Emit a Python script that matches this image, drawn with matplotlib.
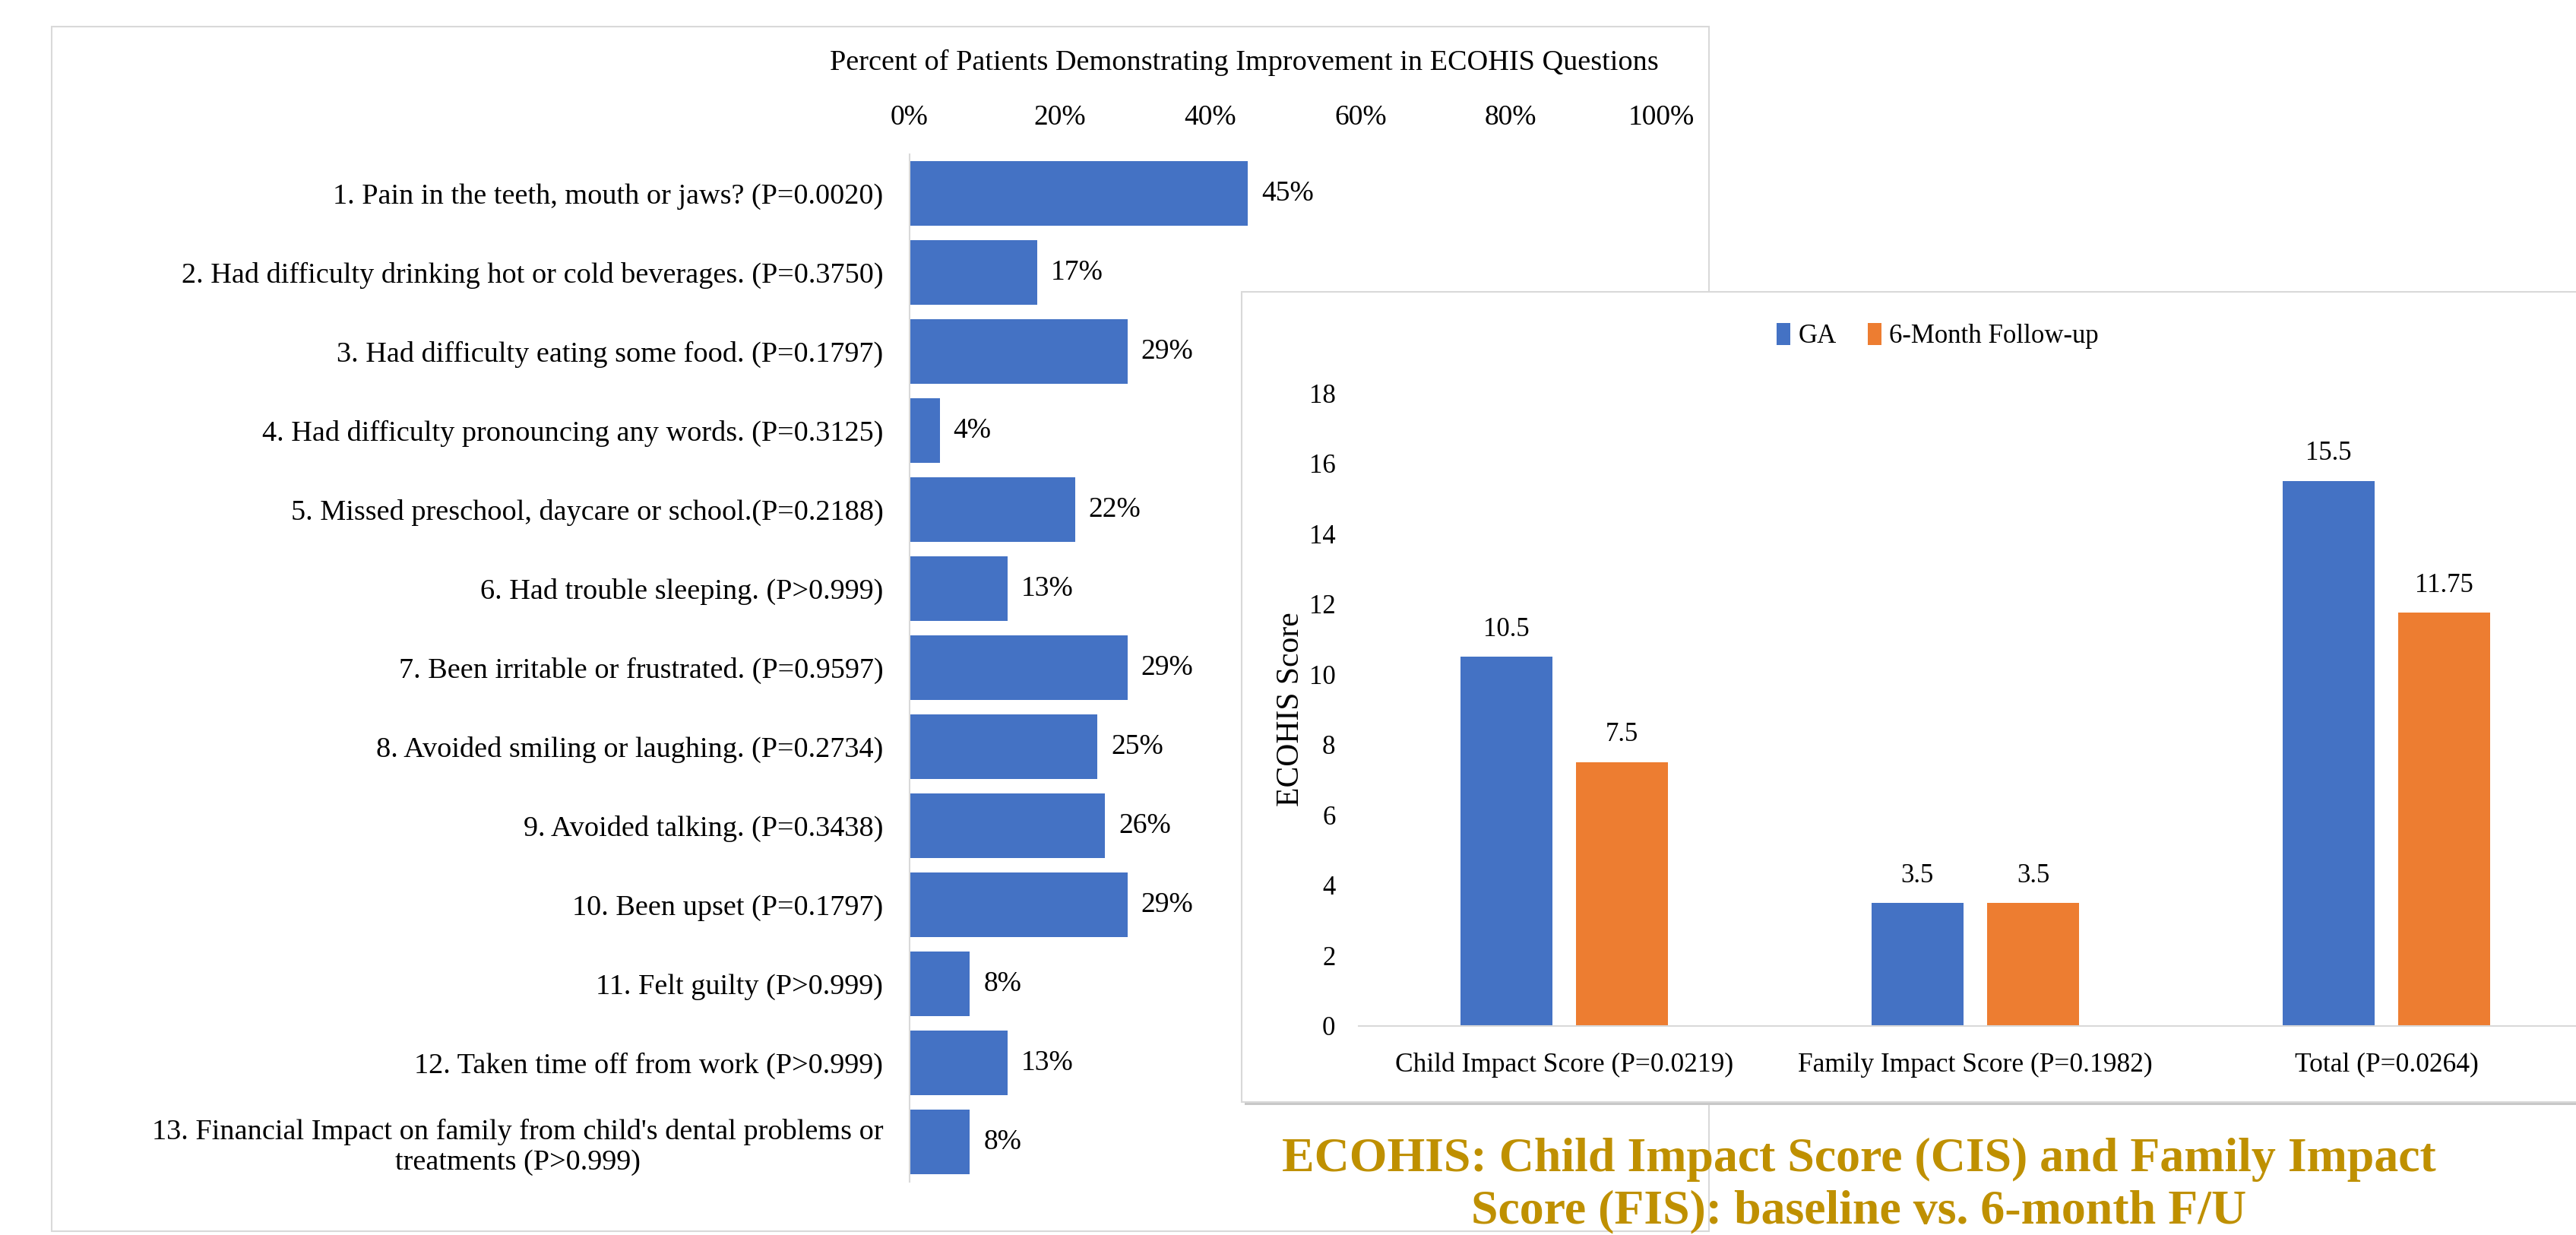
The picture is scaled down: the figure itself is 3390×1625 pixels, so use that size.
import matplotlib
matplotlib.use("Agg")
import matplotlib.pyplot as plt
from matplotlib.patches import Rectangle
from matplotlib.ticker import FuncFormatter
import numpy as np

plt.rcParams['font.family'] = ['Liberation Serif', 'DejaVu Serif']

# ECOHIS question improvement (percent of patients)
questions = [
    "1. Pain in the teeth, mouth or jaws? (P=0.0020)",
    "2. Had difficulty drinking hot or cold beverages. (P=0.3750)",
    "3. Had difficulty eating some food. (P=0.1797)",
    "4. Had difficulty pronouncing any words. (P=0.3125)",
    "5. Missed preschool, daycare or school.(P=0.2188)",
    "6. Had trouble sleeping. (P>0.999)",
    "7. Been irritable or frustrated. (P=0.9597)",
    "8. Avoided smiling or laughing. (P=0.2734)",
    "9. Avoided talking. (P=0.3438)",
    "10. Been upset (P=0.1797)",
    "11. Felt guilty (P>0.999)",
    "12. Taken time off from work (P>0.999)",
    "13. Financial Impact on family from child's dental problems or\ntreatments (P>0.999)",
]
improvement = [45, 17, 29, 4, 22, 13, 29, 25, 26, 29, 8, 13, 8]
pct_ticks = [0, 20, 40, 60, 80, 100]

# impact scores, baseline vs follow-up
score_groups = ["Child Impact Score (P=0.0219)", "Family Impact Score (P=0.1982)", "Total (P=0.0264)"]
ga_scores = [10.5, 3.5, 15.5]
followup_scores = [7.5, 3.5, 11.75]
score_ticks = [0, 2, 4, 6, 8, 10, 12, 14, 16, 18]

BLUE = "#4472C4"
ORANGE = "#ED7D31"
GRID = "#D9D9D9"
GOLD = "#BF9000"

W, H = 3390, 1625
fig = plt.figure(figsize=(W / 100, H / 100), dpi=100)


def px_rect(x0, y0, x1, y1):
    # pixel box (top-left origin) -> figure fraction rect
    return [x0 / W, 1 - y1 / H, (x1 - x0) / W, (y1 - y0) / H]


# --- left panel frame
fig.patches.append(Rectangle((68 / W, 1 - 1620 / H), (2249 - 68) / W, (1620 - 35) / H,
                             transform=fig.transFigure, facecolor="white",
                             edgecolor=GRID, linewidth=1.5, zorder=-5))

ax1 = fig.add_axes(px_rect(1197, 202.5, 2186, 1554.5))
ax1.set_zorder(0)
ax1.patch.set_alpha(0)
y = np.arange(len(questions))
bars = ax1.barh(y, improvement, height=0.82, color=BLUE)
ax1.bar_label(bars, labels=[f"{v}%" for v in improvement], padding=13, fontsize=27)
ax1.set_xlim(0, 100)
ax1.set_ylim(len(questions) - 0.5, -0.5)
ax1.set_yticks(y)
ax1.set_yticklabels(questions, fontsize=27.5, multialignment="center")
ax1.set_xticks(pct_ticks)
ax1.xaxis.set_major_formatter(FuncFormatter(lambda v, p: f"{v:.0f}%"))
ax1.xaxis.tick_top()
ax1.tick_params(axis="x", length=0, labelsize=27, pad=22)
ax1.tick_params(axis="y", length=0, pad=25)
for s in ["top", "right", "bottom"]:
    ax1.spines[s].set_visible(False)
ax1.spines["left"].set_color(GRID)
ax1.spines["left"].set_linewidth(1.5)
fig.text(1637 / W, 1 - 82 / H, "Percent of Patients Demonstrating Improvement in ECOHIS Questions",
         ha="center", va="center", fontsize=27.5)

# --- right panel frame (sits on top of the left one)
fig.patches.append(Rectangle((1638 / W, 1 - 1454 / H), 1800 / W, (1454 - 388) / H,
                             transform=fig.transFigure, facecolor="#C8C8C8",
                             edgecolor="none", zorder=1))
fig.patches.append(Rectangle((1634 / W, 1 - 1450 / H), 1800 / W, (1450 - 384) / H,
                             transform=fig.transFigure, facecolor="white",
                             edgecolor=GRID, linewidth=1.5, zorder=1.5))

ax2 = fig.add_axes(px_rect(1788, 517, 3411, 1350))
ax2.set_zorder(2)
ax2.patch.set_alpha(0)
x = np.arange(len(score_groups))
w = 0.224
b1 = ax2.bar(x - 0.141, ga_scores, w, color=BLUE, label="GA")
b2 = ax2.bar(x + 0.141, followup_scores, w, color=ORANGE, label="6-Month Follow-up")
ax2.bar_label(b1, labels=[f"{v:g}" for v in ga_scores], padding=14, fontsize=25)
ax2.bar_label(b2, labels=[f"{v:g}" for v in followup_scores], padding=14, fontsize=25)
ax2.set_xlim(-0.5, len(score_groups) - 0.5)
ax2.set_ylim(0, 18)
ax2.set_yticks(score_ticks)
ax2.set_xticks(x)
ax2.set_xticklabels(score_groups, fontsize=25.5)
ax2.tick_params(axis="x", length=0, pad=25)
ax2.tick_params(axis="y", length=0, labelsize=25, pad=22)
for s in ["top", "right", "left"]:
    ax2.spines[s].set_visible(False)
ax2.spines["bottom"].set_color(GRID)
ax2.spines["bottom"].set_linewidth(1.5)
ax2.set_ylabel("ECOHIS Score", fontsize=30, labelpad=3)

leg = fig.legend(handles=[b1, b2], loc="center", bbox_to_anchor=(2550 / W, 1 - 442 / H),
                 ncol=2, frameon=False, fontsize=25, handlelength=0.5, handleheight=0.9,
                 handletextpad=0.3, columnspacing=1.2)
leg.set_zorder(3)

fig.text(2446 / W, 1 - 1560 / H,
         "ECOHIS: Child Impact Score (CIS) and Family Impact\nScore (FIS): baseline vs. 6-month F/U",
         ha="center", va="center", fontsize=46, fontweight="bold", color=GOLD,
         multialignment="center", linespacing=1.25, zorder=3)

fig.savefig("out.png", dpi=100)
